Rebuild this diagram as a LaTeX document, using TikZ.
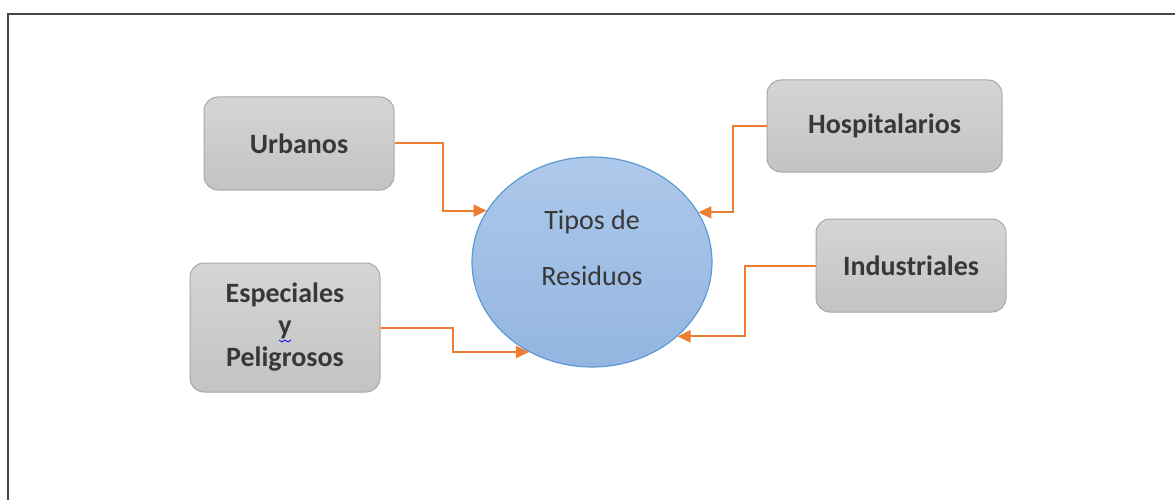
\documentclass[tikz,border=0pt]{standalone}
\usepackage{fontspec}
\setmainfont{Carlito}
\usetikzlibrary{shapes.geometric,arrows.meta}
\definecolor{boxtop}{HTML}{D5D5D5}
\definecolor{boxbot}{HTML}{C3C3C3}
\definecolor{boxline}{HTML}{A8A8A8}
\definecolor{elltop}{HTML}{ADC9EA}
\definecolor{ellbot}{HTML}{93B5E1}
\definecolor{ellline}{HTML}{5B9BD5}
\definecolor{conn}{HTML}{ED7D31}
\definecolor{txt}{HTML}{383838}
\tikzset{
  gbox/.style={draw=boxline, line width=1pt, rounded corners=14pt, top color=boxtop, bottom color=boxbot, text=txt, font=\fontsize{28}{32}\selectfont\bfseries, align=center, inner sep=0pt},
  arr/.style={draw=conn, line width=2pt, -{Triangle[length=13pt,width=12pt]}},
  ell/.style={ellipse, draw=ellline, line width=1.2pt, top color=elltop, bottom color=ellbot, minimum width=240pt, minimum height=210pt, inner sep=0pt},
  etext/.style={text=txt, font=\fontsize{28}{56}\selectfont, align=center}
}
\begin{document}
\begin{tikzpicture}[x=1pt,y=-1pt]
\useasboundingbox (0,0) rectangle (1175,500);
\draw[color=black!72, line width=2pt] (7.5,500) -- (7.5,14) -- (1175,14);
\node[ell] (t) at (592,262) {};
\node[etext] (tl) at (592,248) {Tipos de\\Residuos};
\node[gbox, minimum width=190pt, minimum height=93pt] (u) at (299,143.5) {Urbanos};
\node[gbox, minimum width=235pt, minimum height=92pt] (h) at (884.5,126) {Hospitalarios};
\node[gbox, minimum width=190pt, minimum height=93pt] (i) at (911,265.5) {Industriales};
\node[gbox, minimum width=190pt, minimum height=129pt] (e) at (285,327.5) {Especiales\\y\\Peligrosos};
\draw[color=blue, line width=0.8pt] (279,340) -- (282,342) -- (285,340) -- (288,342) -- (291,340);
\draw[arr] (u.east) -- ++(48,0) |- (t.154);
\draw[arr] (h.west) -- ++(-34,0) |- (t.25);
\draw[arr] (i.west) -- ++(-71,0) |- (t.-41);
\draw[arr] (e.east) -- ++(72,0) |- (t.235);
\end{tikzpicture}
\end{document}
